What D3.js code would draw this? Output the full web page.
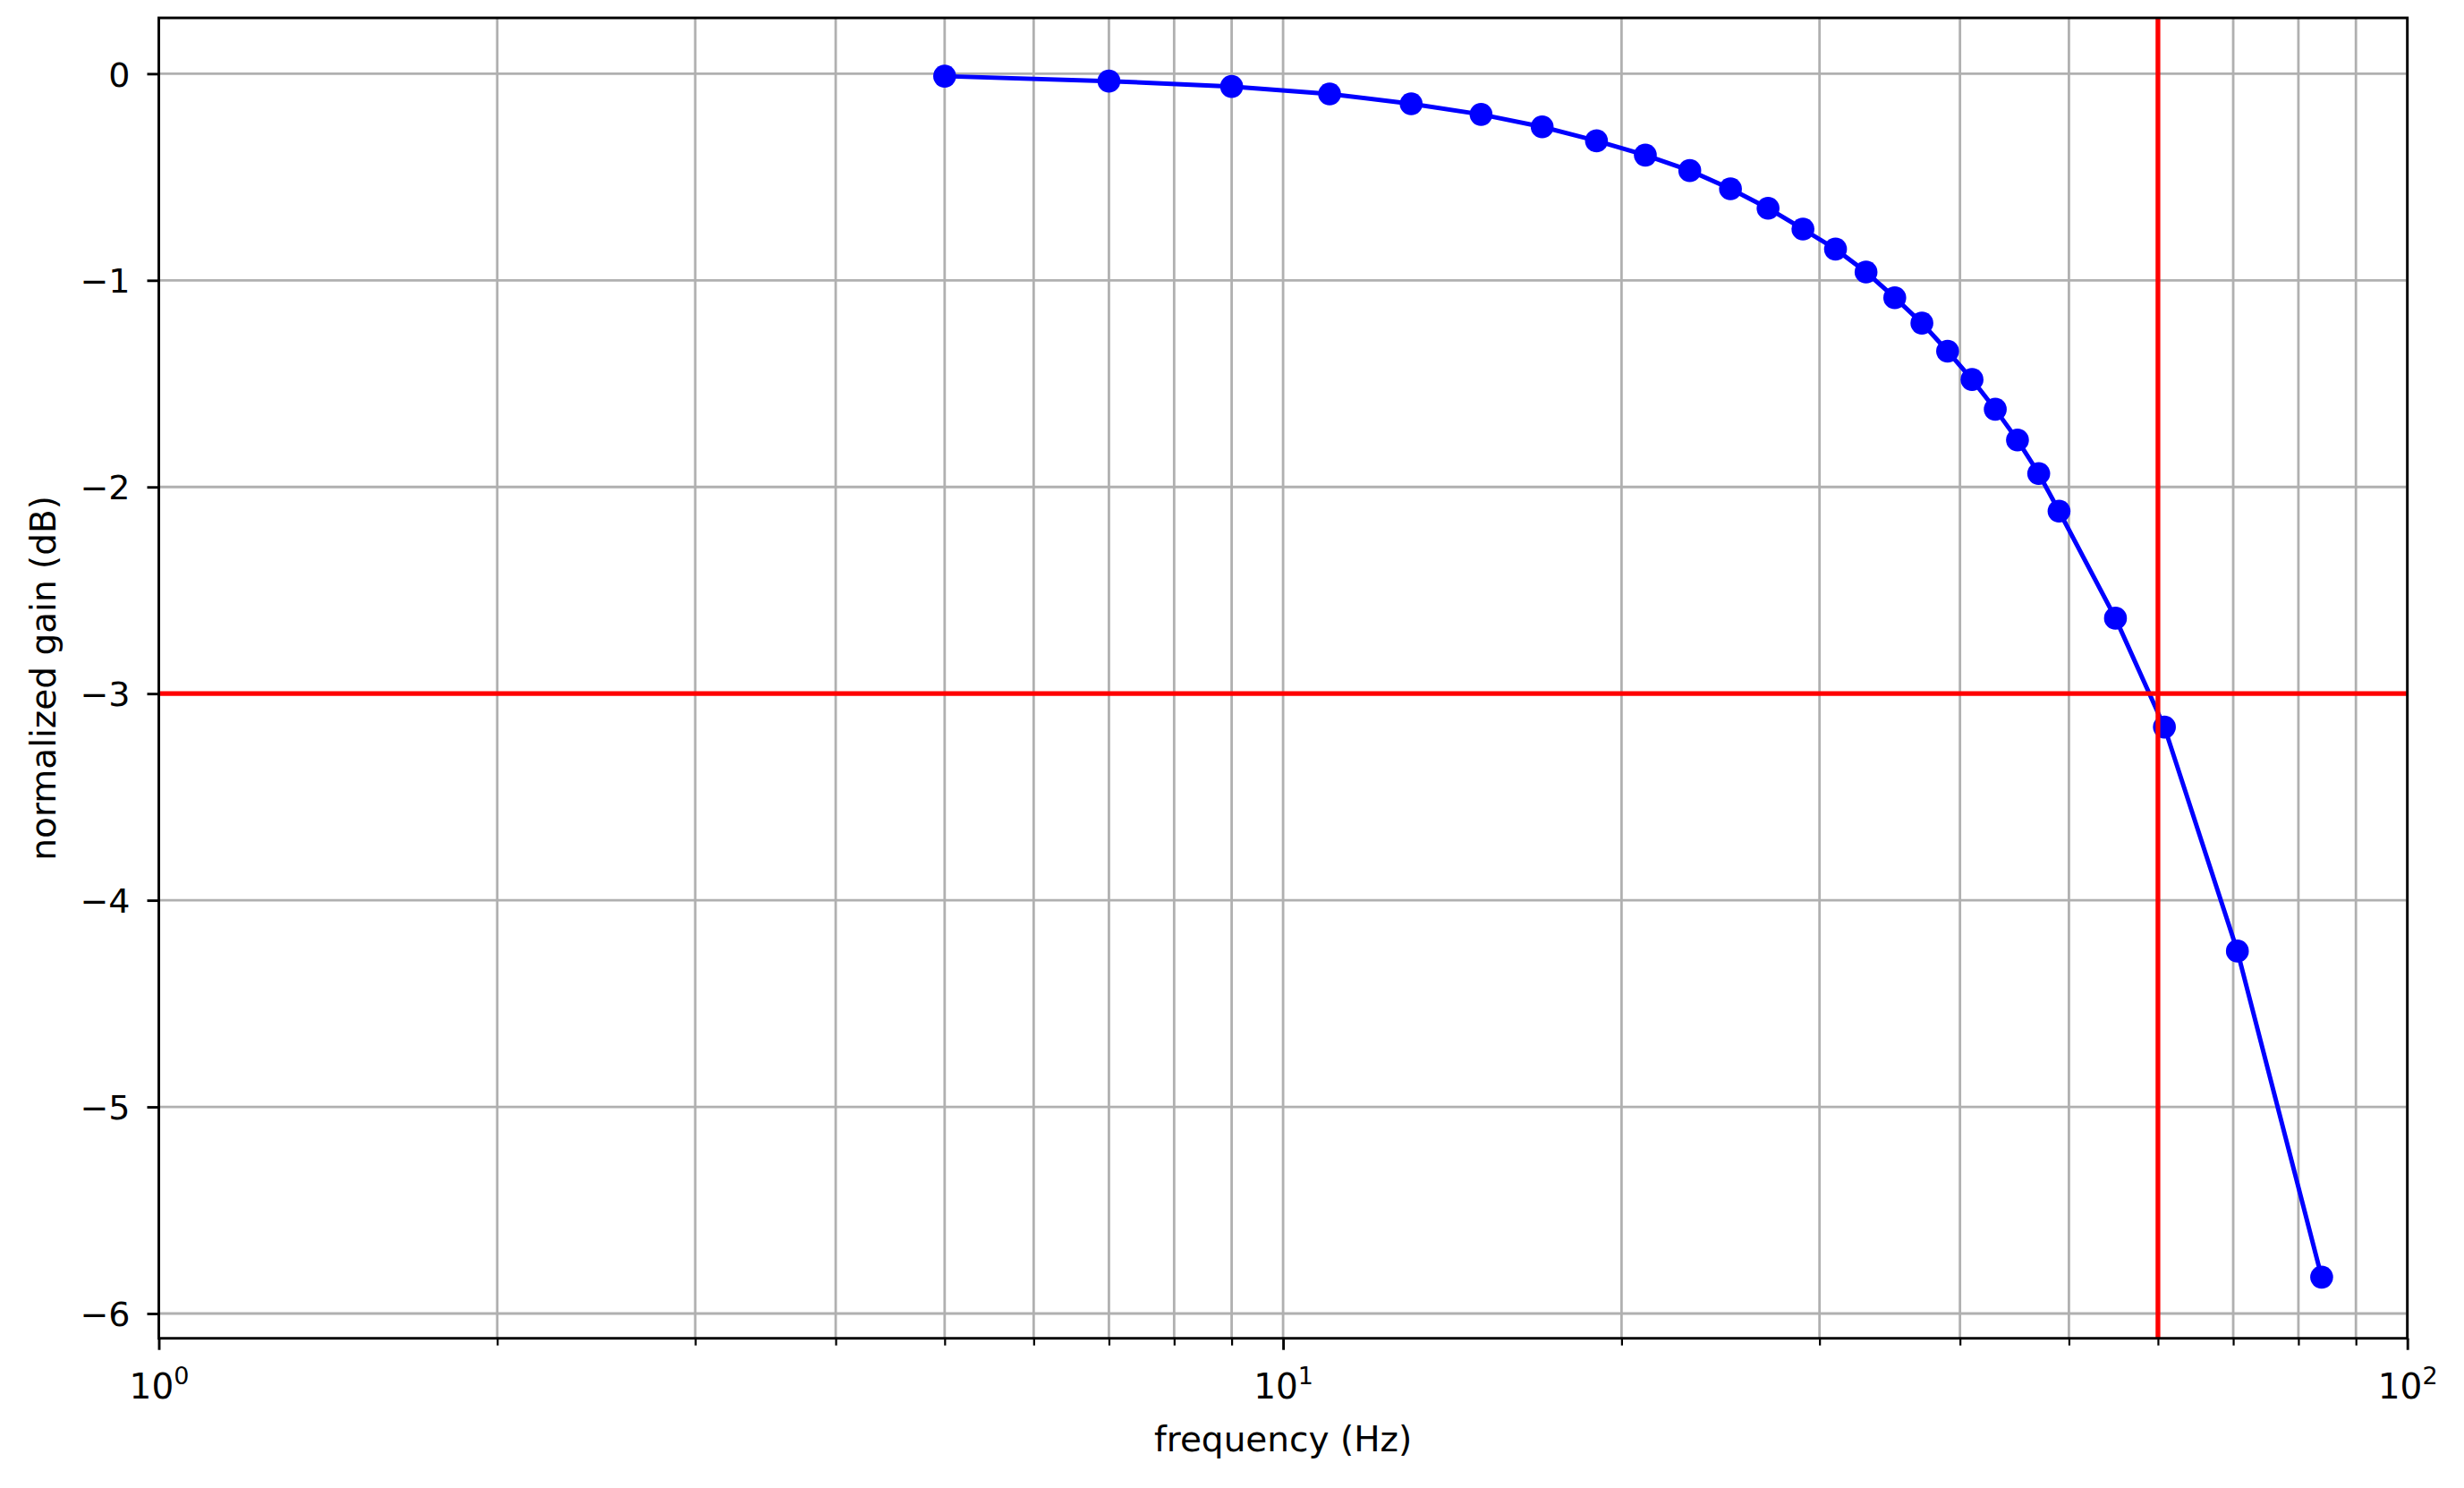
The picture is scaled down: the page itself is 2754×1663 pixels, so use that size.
<!DOCTYPE html>
<html>
<head>
<meta charset="utf-8">
<script src="https://cdn.jsdelivr.net/npm/d3@7"></script>
<style>
body { margin: 0; background: #fff; }
text { font-family: "DejaVu Sans", sans-serif; fill: #000; }
</style>
</head>
<body>
<div id="chart"></div>
<script>
var freq = [5, 7, 9, 11, 13, 15, 17, 19, 21, 23, 25, 27, 29, 31, 33, 35, 37, 39, 41, 43, 45, 47, 49, 55, 60.8, 70.6, 83.9];
var gain = [-0.012, -0.036, -0.062, -0.098, -0.146, -0.197, -0.257, -0.325, -0.394, -0.469, -0.557, -0.651, -0.752,
	-0.849, -0.960, -1.084, -1.207, -1.343, -1.480, -1.624, -1.773, -1.935, -2.117, -2.635, -3.162, -4.246, -5.824];

var xLimits = [1, 100];
var yLimits = [-6.12, 0.27];
var xMajor = [1, 10, 100];
var xMinor = [2, 3, 4, 5, 6, 7, 8, 9, 20, 30, 40, 50, 60, 70, 80, 90];
var yTicks = [-6, -5, -4, -3, -2, -1, 0];

var cutoffFreq = 60;
var cutoffGain = -3;

var xLabel = "frequency (Hz)";
var yLabel = "normalized gain (dB)";

var chart = (function(){
	var width = 2754;
	var height = 1663;
	var margin = {top: 20, right: 63.3, bottom: 167.3, left: 177.5};
	var w = width - margin.left - margin.right;
	var h = height - margin.top - margin.bottom;

	function draw(){
		var svg = d3.select("#chart").append("svg")
			.attr("width", width)
			.attr("height", height);

		var g = svg.append("g")
			.attr("transform", "translate(" + margin.left + "," + margin.top + ")");

		var x = d3.scaleLog().domain(xLimits).range([0, w]);
		var y = d3.scaleLinear().domain(yLimits).range([h, 0]);

		var data = freq.map(function(f, i){ return {f: f, g: gain[i]}; });

		// grid, both major and minor on the log axis
		g.append("g").selectAll("line")
			.data(xMajor.concat(xMinor))
			.enter().append("line")
			.attr("x1", function(d){ return x(d); })
			.attr("x2", function(d){ return x(d); })
			.attr("y1", 0)
			.attr("y2", h)
			.attr("stroke", "#b0b0b0")
			.attr("stroke-width", 2.8);

		g.append("g").selectAll("line")
			.data(yTicks)
			.enter().append("line")
			.attr("x1", 0)
			.attr("x2", w)
			.attr("y1", function(d){ return y(d); })
			.attr("y2", function(d){ return y(d); })
			.attr("stroke", "#b0b0b0")
			.attr("stroke-width", 2.8);

		// the response curve
		var line = d3.line()
			.x(function(d){ return x(d.f); })
			.y(function(d){ return y(d.g); });

		g.append("path")
			.datum(data)
			.attr("d", line)
			.attr("fill", "none")
			.attr("stroke", "#0000ff")
			.attr("stroke-width", 5);

		g.append("g").selectAll("circle")
			.data(data)
			.enter().append("circle")
			.attr("cx", function(d){ return x(d.f); })
			.attr("cy", function(d){ return y(d.g); })
			.attr("r", 12.8)
			.attr("fill", "#0000ff");

		// -3 dB and cutoff markers
		g.append("line")
			.attr("x1", 0).attr("x2", w)
			.attr("y1", y(cutoffGain)).attr("y2", y(cutoffGain))
			.attr("stroke", "#ff0000")
			.attr("stroke-width", 5.3);

		g.append("line")
			.attr("x1", x(cutoffFreq)).attr("x2", x(cutoffFreq))
			.attr("y1", 0).attr("y2", h)
			.attr("stroke", "#ff0000")
			.attr("stroke-width", 5.3);

		// axes
		var xMinorAxis = g.append("g")
			.attr("transform", "translate(0," + h + ")")
			.call(d3.axisBottom(x).tickValues(xMinor).tickSize(8).tickSizeOuter(0).tickFormat(""));
		xMinorAxis.selectAll("line").attr("stroke-width", 2.2);

		var xAxis = g.append("g")
			.attr("transform", "translate(0," + h + ")")
			.call(d3.axisBottom(x).tickValues(xMajor).tickSize(13).tickSizeOuter(0));
		xAxis.selectAll("line").attr("stroke-width", 2.9);
		xAxis.selectAll("text")
			.attr("y", 67)
			.attr("dy", null)
			.style("font-size", "39px")
			.text(null)
			.each(function(d){
				var t = d3.select(this);
				t.append("tspan").text("10");
				t.append("tspan")
					.attr("dy", -16)
					.style("font-size", "27px")
					.text(Math.round(Math.log10(d)));
			});

		var yAxis = g.append("g")
			.call(d3.axisLeft(y).tickValues(yTicks).tickSize(13).tickPadding(19).tickSizeOuter(0).tickFormat(d3.format("d")));
		yAxis.selectAll("line").attr("stroke-width", 2.9);
		yAxis.selectAll("text")
			.style("font-size", "38px")
			.attr("dy", "0.36em");

		svg.selectAll(".domain").remove();

		g.append("rect")
			.attr("width", w)
			.attr("height", h)
			.attr("fill", "none")
			.attr("stroke", "#000")
			.attr("stroke-width", 2.9);

		// labels
		svg.append("text")
			.attr("x", margin.left + w / 2)
			.attr("y", 1621.7)
			.attr("text-anchor", "middle")
			.style("font-size", "39px")
			.text(xLabel);

		svg.append("text")
			.attr("transform", "translate(62," + (margin.top + h / 2) + ") rotate(-90)")
			.attr("text-anchor", "middle")
			.style("font-size", "39px")
			.text(yLabel);
	}

	return {init: draw};
}());

chart.init();
</script>
</body>
</html>
